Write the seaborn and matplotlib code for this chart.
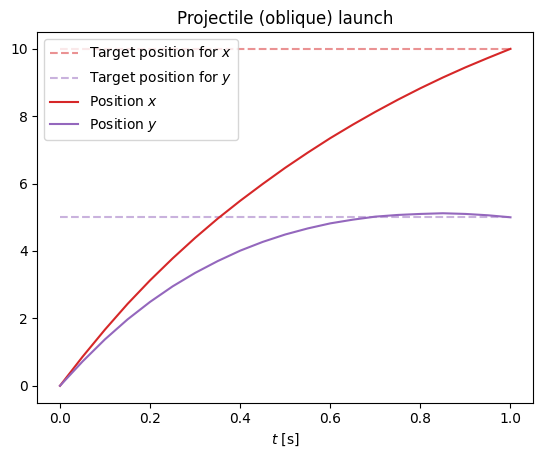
import matplotlib
matplotlib.use("Agg")
import matplotlib.pyplot as plt
import seaborn as sns

# time samples [s]
t = [0.0, 0.05, 0.10, 0.15, 0.20, 0.25, 0.30, 0.35, 0.40, 0.45, 0.50,
     0.55, 0.60, 0.65, 0.70, 0.75, 0.80, 0.85, 0.90, 0.95, 1.0]

pos_x = [0.0, 0.86, 1.67, 2.43, 3.13, 3.78, 4.39, 4.96, 5.49, 5.99, 6.47,
         6.92, 7.35, 7.75, 8.13, 8.49, 8.83, 9.15, 9.45, 9.73, 10.0]

pos_y = [0.0, 0.72, 1.38, 1.97, 2.49, 2.95, 3.35, 3.70, 4.01, 4.27, 4.49,
         4.67, 4.82, 4.93, 5.02, 5.07, 5.10, 5.12, 5.10, 5.06, 5.0]

t_target = [0.0, 1.0]
target_x = [10.0, 10.0]
target_y = [5.0, 5.0]

fig, ax = plt.subplots(figsize=(5.43, 4.57), dpi=100)
fig.subplots_adjust(left=0.069, right=0.9816, top=0.930, bottom=0.119)

sns.lineplot(x=t_target, y=target_x, ax=ax, color='tab:red', alpha=0.5,
             linestyle='--', label='Target position for $x$')
sns.lineplot(x=t_target, y=target_y, ax=ax, color='tab:purple', alpha=0.5,
             linestyle='--', label='Target position for $y$')
sns.lineplot(x=t, y=pos_x, ax=ax, color='tab:red', label='Position $x$')
sns.lineplot(x=t, y=pos_y, ax=ax, color='tab:purple', label='Position $y$')

ax.set_title('Projectile (oblique) launch')
ax.set_xlabel('$t$ [s]')
ax.legend(loc='upper left')

plt.savefig('out.png', dpi=100)
